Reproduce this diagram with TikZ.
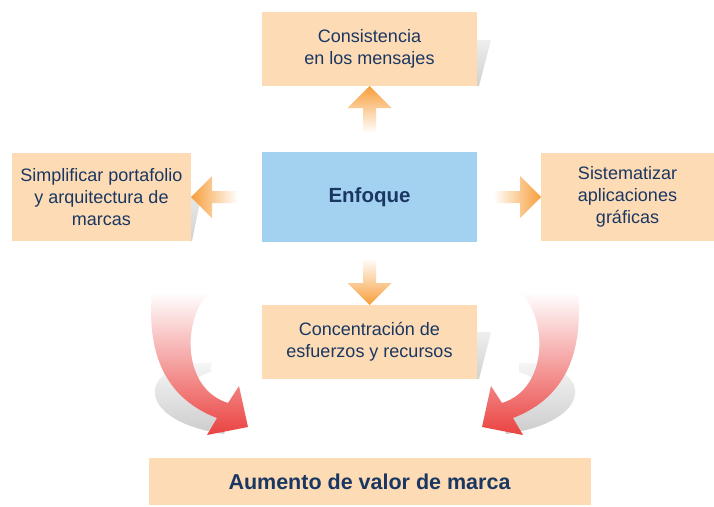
\documentclass[tikz,border=0pt]{standalone}
\usepackage{fontspec}
\setmainfont{Liberation Sans}
\usetikzlibrary{positioning}
\definecolor{peach}{RGB}{253,219,181}
\definecolor{skyblue}{RGB}{163,210,241}
\definecolor{navy}{RGB}{26,55,98}
\definecolor{arrorange}{RGB}{247,158,58}
\definecolor{curvered}{RGB}{234,66,64}
% curved arrow with its shadow, drawn for the left side
\newcommand{\swoosh}{%
  \shade[top color=black!3, bottom color=black!20] (211,363) .. controls (140,360) and (128,420) .. (224,434)
     -- (228,422) .. controls (190,405) and (176,382) .. (211,372) -- cycle;
  \shade[top color=white, bottom color=curvered] (152,292) .. controls (146,360) and (170,400) .. (217,418)
     -- (207,435) -- (248,427) -- (239,386) -- (228,403) .. controls (180,388) and (183,316) .. (210,292) -- cycle;
}
\begin{document}
\begin{tikzpicture}[x=1pt,y=-1pt,
    every node/.style={rectangle, fill=peach, text=navy, align=center, inner sep=0pt, outer sep=0pt,
      font=\fontsize{18}{22}\selectfont},
    box/.style={minimum width=215pt, minimum height=74pt},
    sidebox/.style={minimum width=#1, minimum height=88pt},
    curl/.style={top color=white, bottom color=black!18}]
    \useasboundingbox[fill=white] (0,0) rectangle (714,506);

    \node (enf) [box, minimum height=90pt, fill=skyblue, font=\fontsize{20.5}{24}\selectfont\bfseries] at (369.5,197) {Enfoque};
    \node (cons) [box, above=66pt of enf] {Consistencia\\en los mensajes};
    \node (simp) [sidebox=179pt, left=71pt of enf] {Simplificar portafolio\\y arquitectura de\\marcas};
    \node (sist) [sidebox=173pt, right=64pt of enf] {Sistematizar\\aplicaciones\\gráficas};
    \node (conc) [box, below=63pt of enf] {Concentración de\\esfuerzos y recursos};
    \node (valor) [minimum width=442pt, minimum height=47pt, below=79pt of conc,
      font=\fontsize{21.5}{25}\selectfont\bfseries] {Aumento de valor de marca};

    % shadows on the right of the boxes
    \shade[curl] (cons.north east) ++(0,28) -- ++(14,0) -- ([xshift=2pt]cons.south east) -- (cons.south east) -- cycle;
    \shade[curl] (conc.north east) ++(0,27) -- ++(14,0) -- ([xshift=2pt]conc.south east) -- (conc.south east) -- cycle;
    \shade[curl] (simp.north east) ++(0,44) -- ++(10,0) -- ([xshift=1pt]simp.south east) -- (simp.south east) -- cycle;

    % arrows out of Enfoque
    \shade[top color=arrorange, bottom color=white] ([yshift=19pt]enf.north) ++(-6.5,0) -- ++(0,-25) -- ++(-15.5,0)
      -- (cons.south) -- ++(22,22) -- ++(-15.5,0) -- ++(0,25) -- cycle;
    \shade[top color=white, bottom color=arrorange] ([yshift=-16pt]enf.south) ++(-6.5,0) -- ++(0,25) -- ++(-15.5,0)
      -- (conc.north) -- ++(22,-22) -- ++(-15.5,0) -- ++(0,-25) -- cycle;
    \shade[left color=arrorange, right color=white] ([xshift=-24pt]enf.west) ++(0,-6) -- ++(-26,0) -- ++(0,-15)
      -- (simp.east) -- ++(21,21) -- ++(0,-15) -- ++(26,0) -- cycle;
    \shade[left color=white, right color=arrorange] ([xshift=16pt]enf.east) ++(0,-6) -- ++(27,0) -- ++(0,-15)
      -- (sist.west) -- ++(-21,21) -- ++(0,-15) -- ++(-27,0) -- cycle;

    % curved arrows down to the result
    \swoosh
    \begin{scope}[xshift=730pt, xscale=-1]
      \swoosh
    \end{scope}
\end{tikzpicture}
\end{document}
